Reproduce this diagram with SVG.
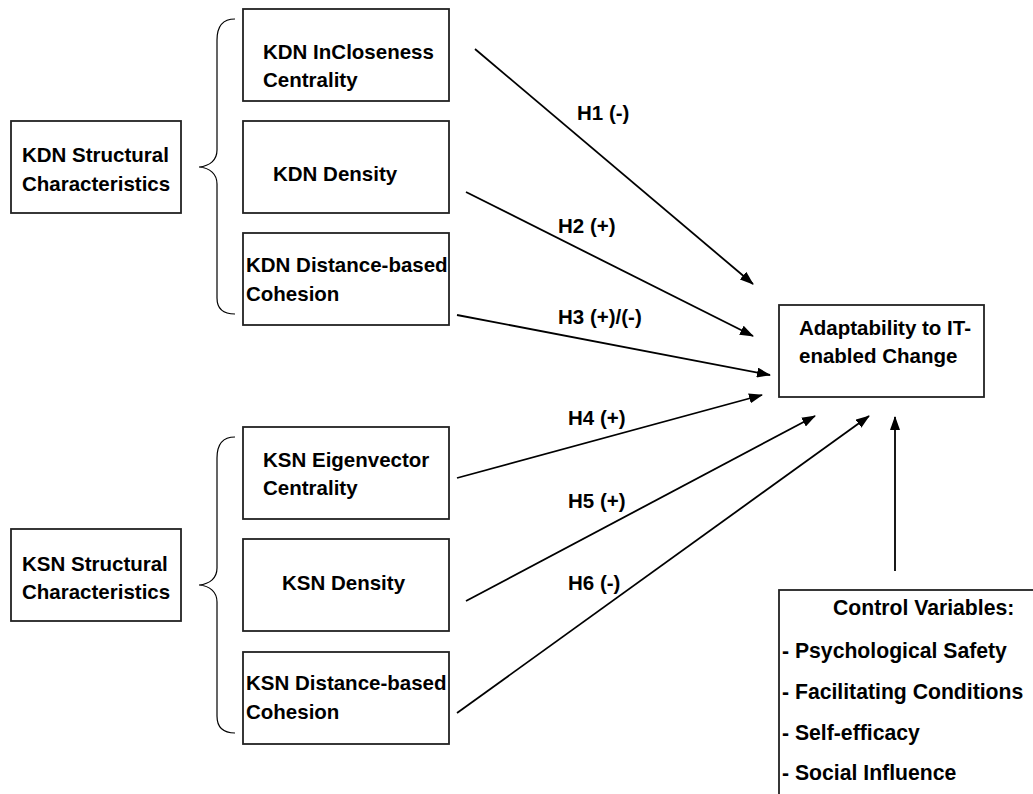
<svg xmlns="http://www.w3.org/2000/svg" width="1033" height="794" viewBox="0 0 1033 794">
  <style>
    .box { fill: #ffffff; stroke: #222222; stroke-width: 1.8; }
    .lbl { font-family: "Liberation Sans", Arial, sans-serif; font-weight: bold; font-size: 20.5px; fill: #000000; }
    .ctl { font-size: 21.2px; }
    .brace { fill: none; stroke: #000000; stroke-width: 1.2; }
    .edge { fill: none; stroke: #000000; stroke-width: 1.8; marker-end: url(#arrow); }
  </style>
  <defs>
    <marker id="arrow" viewBox="0 0 14 10" refX="13" refY="5" markerWidth="14" markerHeight="10" markerUnits="userSpaceOnUse" orient="auto">
      <path d="M0,0 L14,5 L0,10 Z" fill="#000000"/>
    </marker>
  </defs>
  <rect width="1033" height="794" fill="#ffffff"/>

  <!-- KDN side -->
  <g id="kdn-structural">
    <rect class="box" x="11" y="121" width="170" height="92"/>
    <text class="lbl" x="22" y="162">KDN Structural</text>
    <text class="lbl" x="22" y="191">Characteristics</text>
  </g>
  <g id="kdn-brace">
    <path class="brace" d="M235,19 C224,19 217,25 217,40 L217,150 C217,160 210,166 199,167 C210,168 217,174 217,184 L217,298 C217,310 224,314 235,314"/>
  </g>
  <g id="kdn-incloseness">
    <rect class="box" x="243" y="9" width="206" height="92"/>
    <text class="lbl" x="263" y="59">KDN InCloseness</text>
    <text class="lbl" x="263" y="87">Centrality</text>
  </g>
  <g id="kdn-density">
    <rect class="box" x="243" y="121" width="206" height="92"/>
    <text class="lbl" x="273" y="181">KDN Density</text>
  </g>
  <g id="kdn-cohesion">
    <rect class="box" x="243" y="233" width="206" height="92"/>
    <text class="lbl" x="246" y="272">KDN Distance-based</text>
    <text class="lbl" x="246" y="301">Cohesion</text>
  </g>

  <!-- KSN side -->
  <g id="ksn-structural">
    <rect class="box" x="11" y="529" width="170" height="92"/>
    <text class="lbl" x="22" y="571">KSN Structural</text>
    <text class="lbl" x="22" y="599">Characteristics</text>
  </g>
  <g id="ksn-brace">
    <path class="brace" d="M235,437 C224,437 217,443 217,458 L217,568 C217,578 210,584 199,585 C210,586 217,592 217,602 L217,716 C217,728 224,733 235,733"/>
  </g>
  <g id="ksn-eigenvector">
    <rect class="box" x="243" y="427" width="206" height="92"/>
    <text class="lbl" x="263" y="467">KSN Eigenvector</text>
    <text class="lbl" x="263" y="495">Centrality</text>
  </g>
  <g id="ksn-density">
    <rect class="box" x="243" y="539" width="206" height="92"/>
    <text class="lbl" x="282" y="590">KSN Density</text>
  </g>
  <g id="ksn-cohesion">
    <rect class="box" x="243" y="652" width="206" height="92"/>
    <text class="lbl" x="246" y="690">KSN Distance-based</text>
    <text class="lbl" x="246" y="719">Cohesion</text>
  </g>

  <!-- outcome -->
  <g id="adaptability">
    <rect class="box" x="779" y="305" width="205" height="92"/>
    <text class="lbl" x="799" y="335">Adaptability to IT-</text>
    <text class="lbl" x="799" y="363">enabled Change</text>
  </g>

  <!-- controls (box runs past the page edge) -->
  <g id="controls">
    <rect class="box" x="779" y="590" width="270" height="220"/>
    <text class="lbl ctl" x="833" y="615">Control Variables:</text>
    <text class="lbl ctl" x="782" y="658">- Psychological Safety</text>
    <text class="lbl ctl" x="782" y="699">- Facilitating Conditions</text>
    <text class="lbl ctl" x="782" y="740">- Self-efficacy</text>
    <text class="lbl ctl" x="782" y="780">- Social Influence</text>
  </g>

  <!-- hypothesis paths -->
  <g id="connectors">
    <line class="edge" x1="475" y1="49" x2="753" y2="284"/>
    <line class="edge" x1="466" y1="192" x2="753" y2="336"/>
    <line class="edge" x1="457" y1="315" x2="770" y2="375"/>
    <line class="edge" x1="457" y1="478" x2="762" y2="395"/>
    <line class="edge" x1="466" y1="601" x2="815" y2="416"/>
    <line class="edge" x1="457" y1="713" x2="869" y2="416"/>
    <line class="edge" x1="895" y1="571" x2="895" y2="417"/>
  </g>
  <g id="edge-labels">
    <text class="lbl" x="577" y="120">H1 (-)</text>
    <text class="lbl" x="558" y="233">H2 (+)</text>
    <text class="lbl" x="558" y="324">H3 (+)/(-)</text>
    <text class="lbl" x="568" y="425">H4 (+)</text>
    <text class="lbl" x="568" y="508">H5 (+)</text>
    <text class="lbl" x="568" y="590">H6 (-)</text>
  </g>
</svg>
